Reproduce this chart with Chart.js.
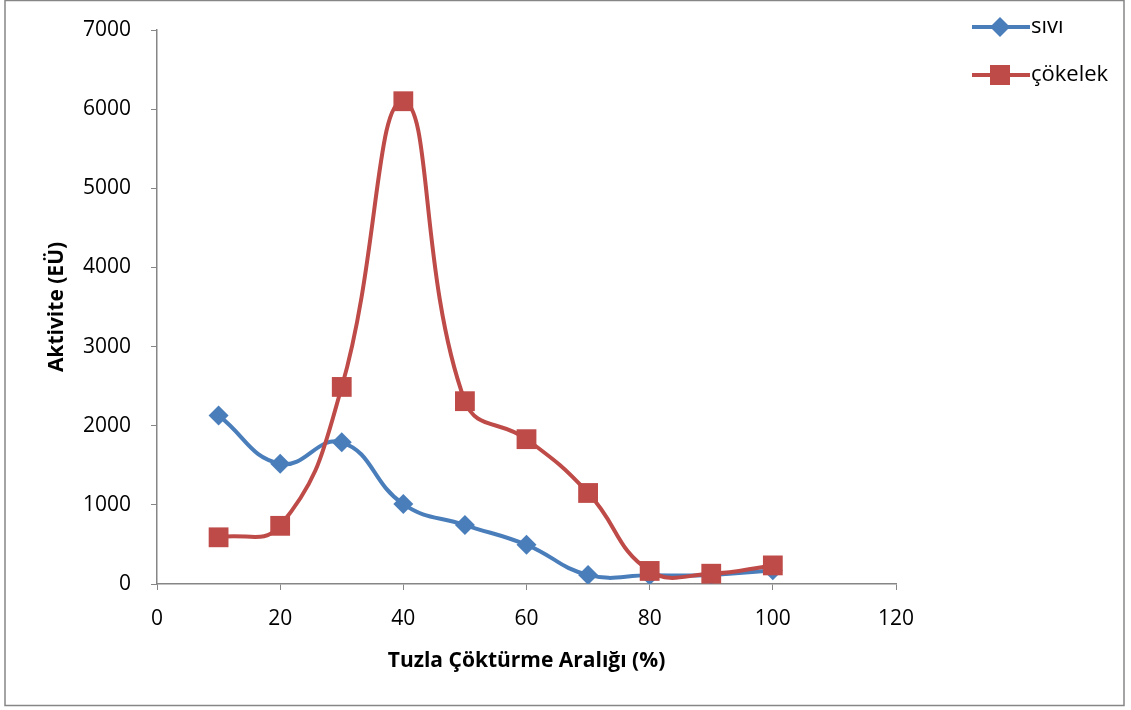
<!DOCTYPE html>
<html>
<head>
<meta charset="utf-8">
<script src="https://cdn.jsdelivr.net/npm/chart.js@4"></script>
<style>
html,body{margin:0;padding:0;background:#fff;}
#wrap{position:relative;width:1131px;height:710px;}
</style>
</head>
<body>
<div id="wrap"><canvas id="c" width="1131" height="710"></canvas></div>
<script>
const xValues = [10, 20, 30, 40, 50, 60, 70, 80, 90, 100];
const siviValues = [2130, 1520, 1790, 1010, 745, 495, 115, 110, 115, 175];
const cokelekValues = [590, 735, 2490, 6100, 2310, 1830, 1150, 165, 130, 235];
const seriesNames = ['sıvı', 'çökelek'];
const xTitle = 'Tuzla Çöktürme Aralığı (%)';
const yTitle = 'Aktivite (EÜ)';

const BLUE = '#4A7EBB';
const RED = '#BE4B48';
const GRAY = '#868686';
const FONT = "'Open Sans', 'DejaVu Sans', sans-serif";

function pts(vals){ return xValues.map((x,i)=>({x:x, y:vals[i]})); }

const legendPlugin = {
  id: 'customLegend',
  afterDraw(chart){
    const ctx = chart.ctx;
    ctx.save();
    ctx.strokeStyle = GRAY;
    ctx.lineWidth = 1.5;
    ctx.strokeRect(5, 0.5, 1119, 705);
    const items = [
      {name: seriesNames[0], color: BLUE, style: 'diamond', y: 27},
      {name: seriesNames[1], color: RED, style: 'square', y: 75}
    ];
    items.forEach(it=>{
      ctx.strokeStyle = it.color;
      ctx.lineWidth = 4;
      ctx.beginPath();
      ctx.moveTo(972, it.y);
      ctx.lineTo(1030, it.y);
      ctx.stroke();
      ctx.fillStyle = it.color;
      const cx = 1000;
      if (it.style === 'diamond') {
        ctx.beginPath();
        ctx.moveTo(cx, it.y-10); ctx.lineTo(cx+10, it.y); ctx.lineTo(cx, it.y+10); ctx.lineTo(cx-10, it.y);
        ctx.closePath(); ctx.fill();
      } else {
        ctx.fillRect(cx-10, it.y-10, 20, 20);
      }
      ctx.fillStyle = '#000';
      ctx.font = "22px " + FONT;
      ctx.textBaseline = 'middle';
      ctx.textAlign = 'left';
      ctx.fillText(it.name, 1031, it.y);
    });
    ctx.restore();
  }
};

new Chart(document.getElementById('c'), {
  type: 'line',
  data: {
    datasets: [
      {
        label: seriesNames[0],
        data: pts(siviValues),
        borderColor: BLUE,
        backgroundColor: BLUE,
        borderWidth: 4,
        pointStyle: 'rectRot',
        pointRadius: 10,
        pointBorderWidth: 0,
        tension: 0.45,
        order: 2
      },
      {
        label: seriesNames[1],
        data: pts(cokelekValues),
        borderColor: RED,
        backgroundColor: RED,
        borderWidth: 4,
        pointStyle: 'rect',
        pointRadius: 14,
        pointBorderWidth: 0,
        tension: 0.45,
        order: 1
      }
    ]
  },
  options: {
    responsive: false,
    animation: false,
    layout: { padding: { left: 0, top: 30, right: 235, bottom: 0 } },
    plugins: { legend: { display: false }, tooltip: { enabled: false } },
    scales: {
      x: {
        type: 'linear',
        min: 0, max: 120,
        ticks: { stepSize: 20, color: '#000', font: { family: FONT, size: 21 }, padding: 16, callback: v => String(v) },
        grid: { drawOnChartArea: false, drawTicks: true, tickLength: 6, color: GRAY },
        border: { color: GRAY, width: 1.5 },
        title: { display: true, text: xTitle, color: '#000', font: { family: FONT, size: 21, weight: 'bold' }, padding: { top: 0, bottom: 36 } },
        afterFit(s){ s.height = 126; s.paddingLeft = 0; s.paddingRight = 0; }
      },
      y: {
        min: 0, max: 7000,
        ticks: { stepSize: 1000, color: '#000', font: { family: FONT, size: 21 }, padding: 20, callback: v => String(v) },
        grid: { drawOnChartArea: false, drawTicks: true, tickLength: 6, color: GRAY },
        border: { color: GRAY, width: 1.5 },
        title: { display: true, text: yTitle, color: '#000', font: { family: FONT, size: 21, weight: 'bold' }, padding: { top: 44, bottom: 0 } },
        afterFit(s){ s.width = 157; s.paddingTop = 0; s.paddingBottom = 0; }
      }
    }
  },
  plugins: [legendPlugin]
});
</script>
</body>
</html>
